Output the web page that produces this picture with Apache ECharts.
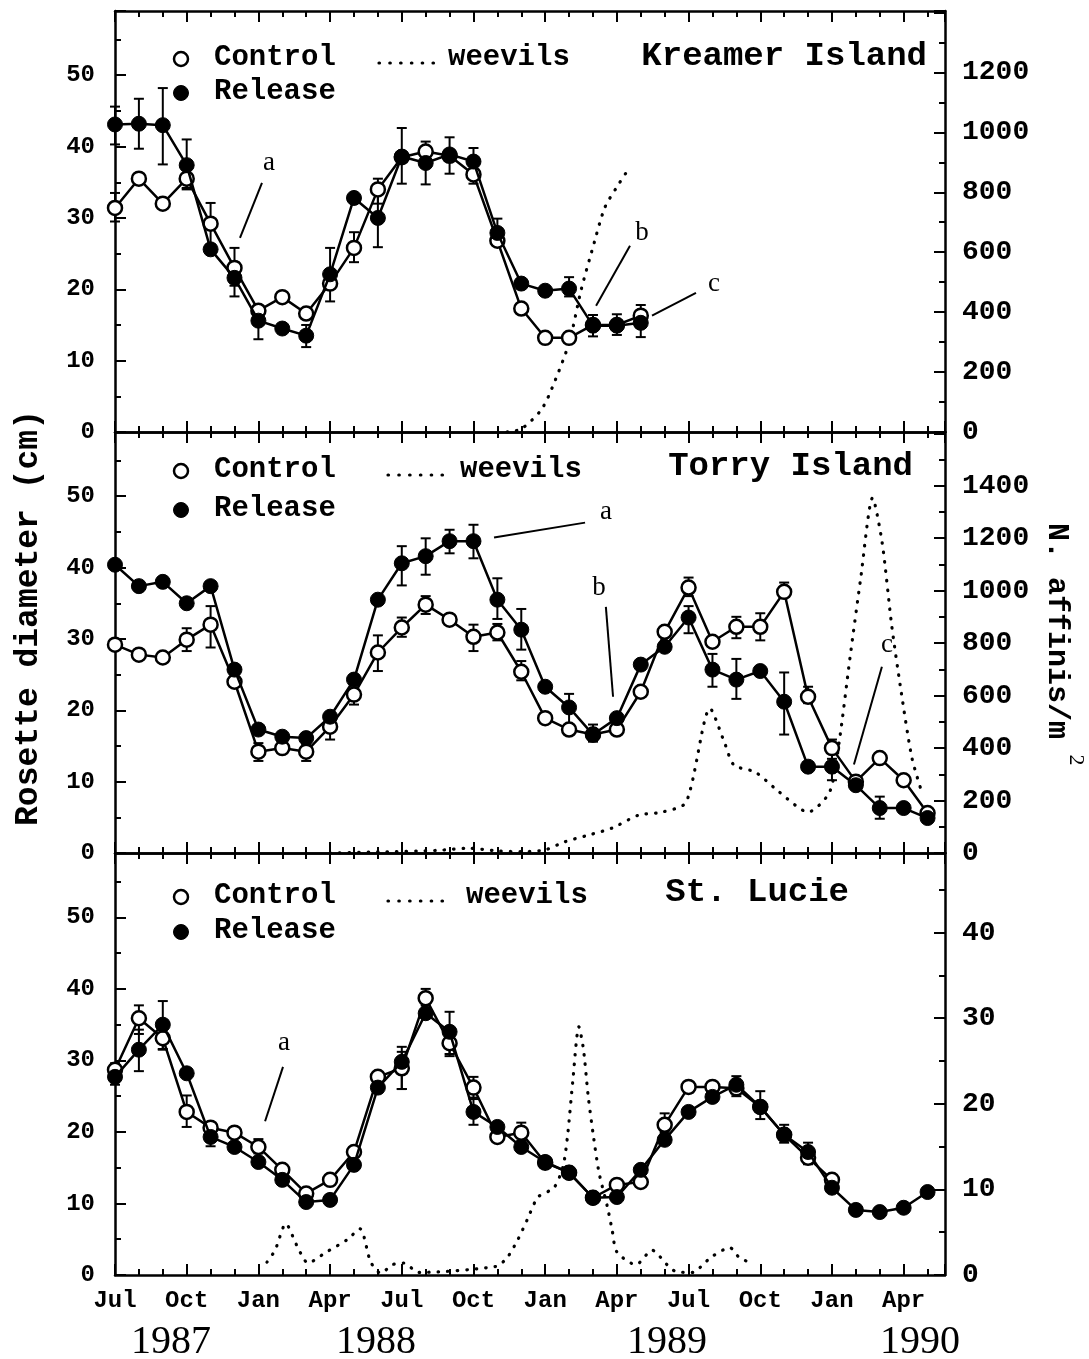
<!DOCTYPE html>
<html>
<head>
<meta charset="utf-8">
<script src="https://cdn.jsdelivr.net/npm/echarts@6/dist/echarts.min.js"></script>
</head>
<body style="margin:0;background:#fff">
<div id="container" style="width:1089px;height:1359px"></div>
<script>
// months counted from 1 Jul 1987, one sample per month
var sampleMonths = [0,1,2,3,4,5,6,7,8,9,10,11,12,13,14,15,16,17,18,19,20,21,22,23,24,25,26,27,28,29,30,31,32,33,34];
var monthNames = ['Jul', 'Oct', 'Jan', 'Apr'];
var yearLabels = ['1987', '1988', '1989', '1990'];

// Kreamer Island
var kreamerControl = [31.4,35.5,32.0,35.5,29.2,23.0,17.0,18.9,16.6,20.8,25.8,34.0,38.5,39.3,38.7,36.1,26.8,17.3,13.2,13.2,15.0,15.0,16.3];
var kreamerRelease = [43.1,43.2,43.0,37.4,25.6,21.6,15.6,14.5,13.5,22.1,32.8,30.0,38.6,37.7,38.9,37.9,27.9,20.8,19.8,20.1,14.9,14.9,15.3];
var kreamerControlErr = [[0,29.5,33.5],[3,34.0,36.8],[4,26.3,32.1],[5,20.5,25.8],[10,23.8,28.0],[11,32.0,35.5],[15,34.8,37.3],[22,14.6,17.8]];
var kreamerReleaseErr = [[0,40.3,45.6],[1,39.7,46.7],[2,37.5,48.2],[3,34.2,41.0],[5,19.0,23.8],[6,13.0,17.2],[8,11.9,15.0],[9,18.3,25.8],[11,25.9,34.3],[12,34.8,42.6],[13,34.7,40.7],[14,36.2,41.3],[15,36.0,39.8],[16,27.0,29.9],[19,19.0,21.7],[20,13.4,16.4],[21,13.6,16.5],[22,13.3,16.9]];
var kreamerWeevils = [[16.4,0],[17.0,10],[17.8,70],[18.2,130],[19.0,297],[19.5,473],[20.0,617],[20.5,750],[21.1,830],[21.4,867]];

// Torry Island
var torryControl = [29.2,27.8,27.4,29.9,32.0,24.0,14.2,14.7,14.2,17.7,22.2,28.1,31.6,34.8,32.7,30.3,30.9,25.4,18.9,17.3,16.6,17.3,22.6,31.0,37.2,29.6,31.7,31.7,36.6,21.9,14.7,10.0,13.3,10.2,5.6];
var torryRelease = [40.4,37.4,38.0,35.0,37.4,25.7,17.3,16.3,16.1,19.1,24.3,35.5,40.6,41.6,43.7,43.7,35.5,31.3,23.3,20.4,16.6,18.9,26.4,28.9,33.0,25.7,24.3,25.5,21.2,12.1,12.1,9.5,6.3,6.3,4.9];
var torryControlErr = [[3,28.3,31.5],[4,28.8,34.6],[6,12.9,15.4],[8,12.9,15.2],[9,15.9,19.2],[10,20.8,23.6],[11,25.5,30.5],[12,30.3,33.0],[13,33.5,36.0],[15,28.3,32.0],[16,29.8,32.1],[17,24.2,26.9],[24,36.0,38.6],[26,30.1,33.1],[27,29.8,33.6],[28,35.9,37.9],[29,21.0,23.3],[30,13.2,15.9]];
var torryReleaseErr = [[12,37.5,43.0],[13,39.0,44.1],[14,42.0,45.3],[15,41.3,46.0],[16,32.8,38.5],[17,28.5,34.2],[19,18.0,22.3],[20,15.6,18.0],[24,30.8,34.6],[25,23.3,27.9],[26,21.6,27.2],[28,16.6,25.3],[30,10.2,14.2],[32,4.8,7.9]];
var torryWeevils = [[9.0,0],[11.0,4],[13.5,10],[14.8,18],[16.0,8],[17.0,5],[18.0,12],[18.8,42],[19.8,68],[20.8,95],[21.9,144],[22.9,156],[23.9,194],[24.9,551],[25.5,422],[25.9,335],[26.8,308],[27.8,232],[29.0,156],[29.9,232],[30.3,422],[30.75,741],[31.2,1045],[31.7,1354],[32.1,1183],[32.5,867],[32.9,612],[33.35,361],[33.8,220]];

// St. Lucie
var lucieControl = [28.7,35.9,33.1,22.8,20.6,19.9,17.9,14.7,11.4,13.3,17.2,27.7,28.9,38.7,32.4,26.2,19.3,19.9,15.7,14.3,10.8,12.6,13.0,21.0,26.3,26.3,26.1,23.5,19.6,16.4,13.3];
var lucieRelease = [27.7,31.5,35.0,28.2,19.3,17.9,15.8,13.3,10.2,10.5,15.4,26.2,29.8,36.6,34.0,22.8,20.7,17.9,15.8,14.3,10.8,10.9,14.7,18.9,22.8,24.9,26.6,23.5,19.6,17.2,12.2,9.1,8.8,9.4,11.6];
var lucieControlErr = [[1,33.7,37.7],[2,31.5,34.5],[3,20.7,25.1],[6,17.0,19.0],[12,26.0,31.2],[13,37.7,40.0],[14,30.6,33.5],[15,24.6,27.7],[17,18.8,21.3],[23,20.0,22.6],[24,25.5,27.0],[29,15.5,17.2]];
var lucieReleaseErr = [[0,26.6,29.6],[1,28.5,34.3],[2,31.6,38.3],[4,18.0,20.7],[12,26.0,31.9],[14,30.9,36.8],[15,21.0,24.8],[26,25.0,27.8],[27,21.8,25.7],[28,18.5,21.0],[29,15.5,18.5]];
var lucieWeevils = [[6.36,1.5],[6.7,2.9],[7.15,6],[7.6,3.5],[8.08,1.4],[8.8,2.6],[9.7,4.1],[10.25,5.4],[10.7,1.5],[11.13,0.2],[11.6,1.2],[12.09,1.4],[12.7,0.3],[15.94,1],[16.4,2],[16.85,4.1],[17.24,6.4],[17.7,9.1],[18.37,10.2],[18.75,12.7],[18.95,16.6],[19.15,22.5],[19.41,29],[19.6,26.4],[19.8,20.9],[20.0,16.6],[20.25,12],[20.6,8],[20.8,5.3],[21.0,2.7],[21.8,1.2],[22.47,2.9],[23.1,1.2],[23.47,0.4],[24.18,0.3],[24.6,1.2],[24.95,2.1],[25.73,3.2],[26.1,2.1],[26.6,1.4]];

// annotation letters and their leader lines (data units of the left axis)
var kreamerNotes = [['a',6.44,37.7],['b',22.05,27.9],['c',25.06,20.8]];
var kreamerLeaders = [[6.15,34.9,5.23,27.2],[21.55,26.1,20.13,17.7],[24.31,19.5,22.47,16.3]];
var torryNotes = [['a',20.54,47.8],['b',20.25,37.2],['c',32.3,29.2]];
var torryLeaders = [[19.67,46.3,15.86,44.2],[20.54,34.5,20.84,21.9],[32.09,26.1,30.92,12.4]];
var lucieNotes = [['a',7.07,32.4]];
var lucieLeaders = [[7.03,29.1,6.28,21.5]];

var X_MAX = 34.73;
var MONO = 'Liberation Mono';

var panels = [
    {name: 'Kreamer Island', top: 11, height: 421, rMax: 1405, rMajor: 200, rMinor: 100, rLabelMax: 1200,
     control: kreamerControl, release: kreamerRelease, cErr: kreamerControlErr, rErr: kreamerReleaseErr,
     weevils: kreamerWeevils, notes: kreamerNotes, leaders: kreamerLeaders,
     titleX: 927, titleY: 56, legY: [59, 93], dots: [379, 435], weevX: 448},
    {name: 'Torry Island', top: 432, height: 421, rMax: 1605, rMajor: 200, rMinor: 100, rLabelMax: 1400,
     control: torryControl, release: torryRelease, cErr: torryControlErr, rErr: torryReleaseErr,
     weevils: torryWeevils, notes: torryNotes, leaders: torryLeaders,
     titleX: 913, titleY: 466, legY: [471, 510], dots: [388, 450], weevX: 460},
    {name: 'St. Lucie', top: 853, height: 422, rMax: 49.3, rMajor: 10, rMinor: 5, rLabelMax: 40,
     control: lucieControl, release: lucieRelease, cErr: lucieControlErr, rErr: lucieReleaseErr,
     weevils: lucieWeevils, notes: lucieNotes, leaders: lucieLeaders,
     titleX: 849, titleY: 892, legY: [897, 932], dots: [388, 449], weevX: 466}
];

var dom = document.getElementById('container');
var myChart = echarts.init(dom);

var tickStyle = {color: '#000', width: 2};
var lineStyleAxis = {color: '#000', width: 2.5};

function isInt(v, step) {
    var r = Math.round(v);
    return Math.abs(v - r) < 1e-6 && r % step === 0;
}

function monthLabel(v) {
    if (!isInt(v, 3)) return '';
    return monthNames[(Math.round(v) / 3) % 4];
}

function renderErr(params, api) {
    var x = api.value(0);
    var p1 = api.coord([x, api.value(1)]);
    var p2 = api.coord([x, api.value(2)]);
    var w = 5;
    var st = {stroke: '#000', lineWidth: 2};
    return {
        type: 'group',
        children: [
            {type: 'line', shape: {x1: p1[0], y1: p1[1], x2: p2[0], y2: p2[1]}, style: st},
            {type: 'line', shape: {x1: p1[0] - w, y1: p1[1], x2: p1[0] + w, y2: p1[1]}, style: st},
            {type: 'line', shape: {x1: p2[0] - w, y1: p2[1], x2: p2[0] + w, y2: p2[1]}, style: st}
        ]
    };
}

function renderLeader(params, api) {
    var a = api.coord([api.value(0), api.value(1)]);
    var b = api.coord([api.value(2), api.value(3)]);
    return {type: 'line', shape: {x1: a[0], y1: a[1], x2: b[0], y2: b[1]}, style: {stroke: '#000', lineWidth: 2}};
}

var grids = [], xAxes = [], yAxes = [], series = [], graphics = [];

panels.forEach(function (p, g) {
    grids.push({left: 115, right: 144, top: p.top, height: p.height});
    var last = g === panels.length - 1;
    var xb = {type: 'value', gridIndex: g, min: 0, max: X_MAX, splitLine: {show: false}};
    xAxes.push(Object.assign({}, xb, {
        position: 'bottom', interval: 3,
        axisLine: {show: true, onZero: false, lineStyle: lineStyleAxis},
        axisTick: {inside: true, length: 11, lineStyle: tickStyle},
        axisLabel: last ? {show: true, formatter: monthLabel, margin: 14, color: '#000',
            fontFamily: MONO, fontWeight: 'bold', fontSize: 24} : {show: false}
    }));
    xAxes.push(Object.assign({}, xb, {
        position: 'bottom', interval: 1,
        axisLine: {show: false, onZero: false},
        axisTick: {inside: true, length: 6, lineStyle: tickStyle},
        axisLabel: {show: false}
    }));
    xAxes.push(Object.assign({}, xb, {
        position: 'top', interval: 3,
        axisLine: {show: true, onZero: false, lineStyle: lineStyleAxis},
        axisTick: {inside: true, length: 11, lineStyle: tickStyle},
        axisLabel: {show: false}
    }));
    xAxes.push(Object.assign({}, xb, {
        position: 'top', interval: 1,
        axisLine: {show: false, onZero: false},
        axisTick: {inside: true, length: 6, lineStyle: tickStyle},
        axisLabel: {show: false}
    }));

    var yl = {type: 'value', gridIndex: g, min: 0, max: 59, splitLine: {show: false}};
    yAxes.push(Object.assign({}, yl, {
        position: 'left', interval: 10,
        axisLine: {show: true, onZero: false, lineStyle: lineStyleAxis},
        axisTick: {inside: true, length: 11, lineStyle: tickStyle},
        axisLabel: {formatter: function (v) { return isInt(v, 10) ? String(Math.round(v)) : ''; },
            margin: 20, color: '#000', fontFamily: MONO, fontWeight: 'bold', fontSize: 24}
    }));
    yAxes.push(Object.assign({}, yl, {
        position: 'left', interval: 5,
        axisLine: {show: false, onZero: false},
        axisTick: {inside: true, length: 6, lineStyle: tickStyle},
        axisLabel: {show: false}
    }));
    var yr = {type: 'value', gridIndex: g, min: 0, max: p.rMax, splitLine: {show: false}};
    yAxes.push(Object.assign({}, yr, {
        position: 'right', interval: p.rMajor,
        axisLine: {show: true, onZero: false, lineStyle: lineStyleAxis},
        axisTick: {inside: true, length: 11, lineStyle: tickStyle},
        axisLabel: {formatter: function (v) {
                return isInt(v, p.rMajor) && v <= p.rLabelMax ? String(Math.round(v)) : '';
            },
            margin: 17, color: '#000', fontFamily: MONO, fontWeight: 'bold', fontSize: 28}
    }));
    yAxes.push(Object.assign({}, yr, {
        position: 'right', interval: p.rMinor,
        axisLine: {show: false, onZero: false},
        axisTick: {inside: true, length: 6, lineStyle: tickStyle},
        axisLabel: {show: false}
    }));

    var xi = 4 * g, yi = 4 * g, yri = 4 * g + 2;

    series.push({type: 'custom', xAxisIndex: xi, yAxisIndex: yi, renderItem: renderErr,
        encode: {x: 0, y: [1, 2]}, data: p.cErr, silent: true, z: 2});
    series.push({type: 'custom', xAxisIndex: xi, yAxisIndex: yi, renderItem: renderErr,
        encode: {x: 0, y: [1, 2]}, data: p.rErr, silent: true, z: 2});
    series.push({type: 'line', name: 'weevils', xAxisIndex: xi, yAxisIndex: yri,
        data: p.weevils, symbol: 'none', smooth: 0.25, silent: true, z: 3,
        lineStyle: {color: '#000', width: 3.2, type: [0.5, 9], cap: 'round'}});
    series.push({type: 'line', name: 'Control', xAxisIndex: xi, yAxisIndex: yi,
        data: p.control.map(function (v, i) { return [sampleMonths[i], v]; }),
        symbol: 'circle', symbolSize: 14, showAllSymbol: true, silent: true, z: 4,
        lineStyle: {color: '#000', width: 2.5},
        itemStyle: {color: '#fff', borderColor: '#000', borderWidth: 2.5}});
    series.push({type: 'line', name: 'Release', xAxisIndex: xi, yAxisIndex: yi,
        data: p.release.map(function (v, i) { return [sampleMonths[i], v]; }),
        symbol: 'circle', symbolSize: 15, showAllSymbol: true, silent: true, z: 5,
        lineStyle: {color: '#000', width: 2.5},
        itemStyle: {color: '#000', borderColor: '#000', borderWidth: 1}});
    series.push({type: 'custom', xAxisIndex: xi, yAxisIndex: yi, renderItem: renderLeader,
        encode: {x: [0, 2], y: [1, 3]}, data: p.leaders, silent: true, z: 6});
    series.push({type: 'custom', xAxisIndex: xi, yAxisIndex: yi,
        encode: {x: 0, y: 1},
        data: p.notes.map(function (n) { return [n[1], n[2]]; }),
        renderItem: function (params, api) {
            var c = api.coord([api.value(0), api.value(1)]);
            return {type: 'text', x: c[0], y: c[1], style: {
                text: p.notes[params.dataIndex][0], fill: '#000',
                fontFamily: 'Liberation Serif', fontSize: 27, align: 'center', verticalAlign: 'middle'}};
        }, silent: true, z: 6});

    // panel title and legend
    graphics.push({type: 'text', x: p.titleX, y: p.titleY, style: {text: p.name, fill: '#000',
        fontFamily: MONO, fontWeight: 'bold', fontSize: 34, align: 'right', verticalAlign: 'middle'}});
    graphics.push({type: 'circle', shape: {cx: 181, cy: p.legY[0], r: 7},
        style: {fill: '#fff', stroke: '#000', lineWidth: 2.5}});
    graphics.push({type: 'circle', shape: {cx: 181, cy: p.legY[1], r: 7.5},
        style: {fill: '#000', stroke: '#000', lineWidth: 1}});
    graphics.push({type: 'text', x: 214, y: p.legY[0] - 1, style: {text: 'Control', fill: '#000',
        fontFamily: MONO, fontWeight: 'bold', fontSize: 29, align: 'left', verticalAlign: 'middle'}});
    graphics.push({type: 'text', x: 214, y: p.legY[1] - 1, style: {text: 'Release', fill: '#000',
        fontFamily: MONO, fontWeight: 'bold', fontSize: 29, align: 'left', verticalAlign: 'middle'}});
    graphics.push({type: 'line', shape: {x1: p.dots[0], y1: p.legY[0] + 4, x2: p.dots[1], y2: p.legY[0] + 4},
        style: {stroke: '#000', lineWidth: 3.2, lineDash: [0.5, 10.3], lineCap: 'round'}});
    graphics.push({type: 'text', x: p.weevX, y: p.legY[0] - 1, style: {text: 'weevils', fill: '#000',
        fontFamily: MONO, fontWeight: 'bold', fontSize: 29, align: 'left', verticalAlign: 'middle'}});
});

// axis titles and years
graphics.push({type: 'text', x: 29, y: 618, rotation: Math.PI / 2, style: {text: 'Rosette diameter (cm)',
    fill: '#000', fontFamily: MONO, fontWeight: 'bold', fontSize: 33, align: 'center', verticalAlign: 'middle'}});
graphics.push({type: 'text', x: 1057, y: 631, rotation: -Math.PI / 2, style: {text: 'N. affinis/m',
    fill: '#000', fontFamily: MONO, fontWeight: 'bold', fontSize: 30, align: 'center', verticalAlign: 'middle'}});
graphics.push({type: 'text', x: 1076, y: 760, rotation: -Math.PI / 2, style: {text: '2',
    fill: '#000', fontFamily: 'Liberation Serif', fontSize: 22, align: 'center', verticalAlign: 'middle'}});
var yearX = [171, 376, 667, 920];
yearLabels.forEach(function (t, i) {
    graphics.push({type: 'text', x: yearX[i], y: 1342, style: {text: t, fill: '#000',
        fontFamily: 'Liberation Serif', fontSize: 40, align: 'center', verticalAlign: 'middle'}});
});

var option = {
    backgroundColor: '#fff',
    animation: false,
    grid: grids,
    xAxis: xAxes,
    yAxis: yAxes,
    series: series,
    graphic: graphics
};

myChart.setOption(option);
</script>
</body>
</html>
